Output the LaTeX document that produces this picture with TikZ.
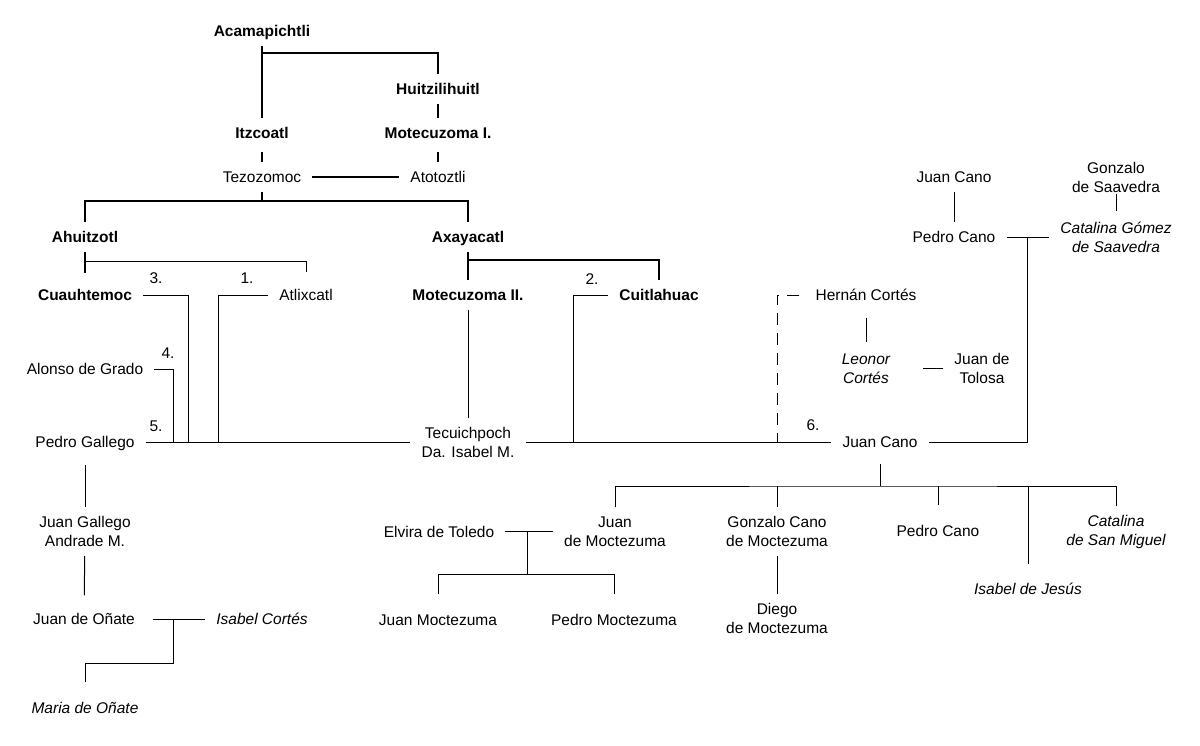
\documentclass[tikz,border=0pt]{standalone}
\usepackage{fontspec}
\setmainfont{Liberation Sans}

\begin{document}
\begin{tikzpicture}[x=1pt,y=-1pt,
  every node/.style={font=\fontsize{15.5}{19}\selectfont,inner xsep=11pt,inner ysep=9pt},
  solo/.style={text height=11pt,text depth=0pt},
  duo/.style={align=center},
  ruler/.style={solo,font=\fontsize{15.5}{19}\selectfont\bfseries},
  ital/.style={font=\fontsize{15.5}{19}\selectfont\itshape},
  thn/.style={line width=1pt},
  thk/.style={line width=2pt},
  dsh/.style={line width=1pt,dash pattern=on 12pt off 8pt}]
  \fill[white] (0,0) rectangle (1200,745);
  \useasboundingbox (0,0) rectangle (1200,745);
  % rulers of Tenochtitlan
  \node[ruler] (acam)  at (262,31)  {Acamapichtli};
  \node[ruler] (huitz) at (438,89)  {Huitzilihuitl};
  \node[ruler] (itz)   at (262,133) {Itzcoatl};
  \node[ruler] (mot1)  at (438,133) {Motecuzoma I.};
  \node[solo]  (tezo)  at (262,177) {Tezozomoc};
  \node[solo]  (atot)  at (438,177) {Atotoztli};
  \node[ruler] (ahui)  at (85,237)  {Ahuitzotl};
  \node[ruler] (axa)   at (468,237) {Axayacatl};
  \node[ruler] (cuau)  at (85,295)  {Cuauhtemoc};
  \node[solo]  (atlix) at (306,295) {Atlixcatl};
  \node[ruler] (mot2)  at (468,295) {Motecuzoma II.};
  \node[ruler] (cuit)  at (659,295) {Cuitlahuac};
  % husbands of Tecuichpoch
  \node[solo]  (alonso) at (85,369)  {Alonso de Grado};
  \node[solo]  (pgal)   at (85,442)  {Pedro Gallego};
  \node[duo]   (tecu)   at (468,442) {Tecuichpoch\\Da. Isabel M.};
  \node[solo]  (jcano)  at (880,442) {Juan Cano};
  % Gallego line
  \node[duo]        (jgal)    at (85,531.5) {Juan Gallego\\Andrade M.};
  \node[solo]       (jonate)  at (84,619)   {Juan de Oñate};
  \node[solo,ital]  (icortes) at (262,619)  {Isabel Cortés};
  \node[solo,ital]  (maria)   at (85,708)   {Maria de Oñate};
  % Cortés and Cano families
  \node[solo]      (hernan)  at (866,295)   {Hernán Cortés};
  \node[duo,ital]  (leonor)  at (866,368.5) {Leonor\\Cortés};
  \node[duo]       (tolosa)  at (982,368.5) {Juan de\\Tolosa};
  \node[solo]      (jcano1)  at (954,177)   {Juan Cano};
  \node[solo]      (pcano1)  at (954,237)   {Pedro Cano};
  \node[duo]       (gonzalo) at (1116,177.5) {Gonzalo\\de Saavedra};
  \node[duo,ital]  (catgom)  at (1116,237)  {Catalina Gómez\\de Saavedra};
  % children of Juan Cano
  \node[duo]       (jmoc)    at (615,531.5)  {Juan\\de Moctezuma};
  \node[duo]       (gcano)   at (777,531.5)  {Gonzalo Cano\\de Moctezuma};
  \node[solo]      (pcano2)  at (938,531)    {Pedro Cano};
  \node[solo,ital] (isabelj) at (1028,589)   {Isabel de Jesús};
  \node[duo,ital]  (catsm)   at (1116,531.5) {Catalina\\de San Miguel};
  \node[duo]       (diego)   at (777,618.5)  {Diego\\de Moctezuma};
  \node[solo]      (elvira)  at (439,531.5)  {Elvira de Toledo};
  \node[solo]      (juanm)   at (438,620)    {Juan Moctezuma};
  \node[solo]      (pedrom)  at (614,620)    {Pedro Moctezuma};
  % order of the marriages
  \foreach \n/\x/\y in {1/247/278,2/592/279,3/156/278,4/168/353,5/156/426,6/813/425}
    \node[solo,inner sep=0pt] (n\n) at (\x,\y) {\n.};
  % junction points
  \coordinate (j0) at (262,53);
  \coordinate (j1) at (262,201);
  \coordinate (j2) at (85,261);
  \coordinate (j3) at (468,260);
  \coordinate (m4) at (173,442);
  \coordinate (m3) at (188,442);
  \coordinate (m1) at (218,442);
  \coordinate (m2) at (573,442);
  \coordinate (m6) at (777,442);
  \coordinate (m7) at (1027,237);
  \coordinate (j5) at (880,486);
  \coordinate (j6) at (527,531.5);
  \coordinate (j7) at (527,574);
  \coordinate (j8) at (173,619);
  \coordinate (j9) at (173,663);
  % dynasty
  \draw[thk] (acam) -- (itz);
  \draw[thk] (j0) -| (huitz);
  \draw[thk] (huitz) -- (mot1);
  \draw[thk,shorten <=4pt] (itz) -- (tezo);
  \draw[thk,shorten <=4pt] (mot1) -- (atot);
  \draw[thk] (tezo) -- (atot);
  \draw[thk] (tezo) -- (j1);
  \draw[thk] (ahui) |- (j1) -| (axa);
  \draw[thk,shorten >=7pt] (ahui) -- (cuau);
  \draw[thn,shorten >=8pt] (j2) -| (atlix);
  \draw[thk] (axa) -- (mot2);
  \draw[thk] (j3) -| (cuit);
  % marriages of Tecuichpoch
  \draw[thn] (cuau) -| (m3);
  \draw[thn] (atlix) -| (m1);
  \draw[thn] (alonso) -| (m4);
  \draw[thn] (cuit) -| (m2);
  \draw[thn] (pgal) -- (tecu);
  \draw[thn] (tecu) -- (jcano);
  \draw[thn] (mot2) -- (tecu);
  \draw[dsh,shorten <=5pt] (hernan) -| (m6);
  \draw[thn,shorten <=8pt,shorten >=2pt] (hernan) -- (leonor);
  \draw[thn,shorten <=22pt] (leonor) -- (tolosa);
  % Cano side
  \draw[thn] (jcano1) -- (pcano1);
  \draw[thn,shorten <=-8pt,shorten >=2pt] (gonzalo) -- (catgom);
  \draw[thn] (pcano1) -- (catgom);
  \draw[thn] (m7) |- (jcano);
  \draw[thn,shorten <=7pt] (jcano) -- (j5);
  \draw[thn] (jmoc) |- (j5) -| (catsm);
  \draw[thn] (gcano) -- (gcano |- j5);
  \draw[thn,shorten <=11pt] (pcano2) -- (pcano2 |- j5);
  \draw[thn,shorten <=10pt] (isabelj) -- (isabelj |- j5);
  \draw[thn] (gcano) -- (diego);
  \draw[thn] (elvira) -- (jmoc);
  \draw[thn] (j6) -- (j7);
  \draw[thn,shorten >=11pt] (j7) -| (juanm);
  \draw[thn,shorten >=11pt] (j7) -| (pedrom);
  % Gallego side
  \draw[thn,shorten <=8pt] (pgal) -- (jgal);
  \draw[thn,shorten >=9pt] (jgal) -- (jonate);
  \draw[thn,shorten <=7pt] (jonate) -- (icortes);
  \draw[thn,shorten >=11pt] (j8) -- (j9) -| (maria);
\end{tikzpicture}
\end{document}
